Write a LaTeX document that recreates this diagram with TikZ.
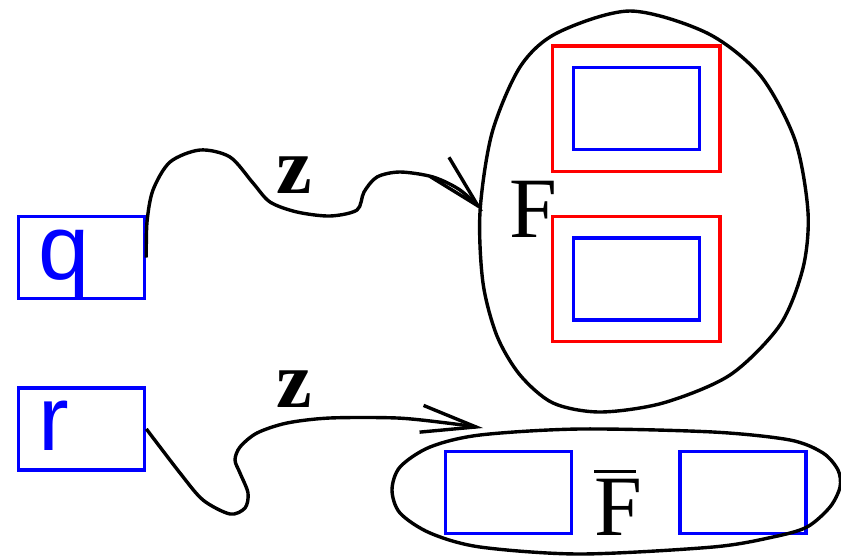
\documentclass[tikz,border=0pt]{standalone}
\usepackage{fontspec}
\setmainfont{Liberation Serif}
\newfontfamily\helv{Liberation Sans}
\usetikzlibrary{positioning,arrows.meta}

\begin{document}
\begin{tikzpicture}[x=1pt,y=-1pt,
  cell/.style={draw=blue,line width=3.4pt,minimum width=126pt,minimum height=82pt,inner sep=0pt},
  var/.style={cell,inner xsep=20pt,text width=86pt,align=left,text height=63pt,text depth=19pt,
    text=blue,font=\helv\fontsize{92}{92}\selectfont},
  set/.style={draw=red,line width=3.4pt,minimum width=167.5pt,minimum height=125.4pt,inner sep=0pt},
  hull/.style={line width=3.4pt},
  wire/.style={line width=3.4pt,-{Straight Barb[length=55pt,width=27pt]}},
  lab/.style={inner sep=0pt,anchor=base west,font=\fontsize{86}{86}\selectfont},
  zlab/.style={lab,font=\bfseries\fontsize{80}{80}\selectfont}]
  \useasboundingbox (0,0) rectangle (841,555);
  % inputs
  \node (q) [var] at (81.6,257.5) {q};
  \node (r) [var,below=86pt of q] {r};
  % the set F
  \node (s1) [set] at (636.2,108.5) {};
  \node (s2) [set,below=41.6pt of s1] {};
  \node (c1) [cell] at (s1) {};
  \node (c2) [cell] at (s2) {};
  \draw[hull] plot[smooth cycle] coordinates {(630,11) (707,33) (760,75) (795,140) (808,212)
    (803,268) (780,325) (730,375) (663,403) (600,412) (553,403) (520,375) (497,336)
    (483,283) (480,212) (492,133) (520,67) (557,33)};
  \node (F) [lab] at (509,237) {F};
  % the complement
  \node (c3) [cell] at (508.5,492.5) {};
  \node (c4) [cell,right=105pt of c3] {};
  \draw[hull] plot[smooth cycle] coordinates {(392,490) (400,513) (430,533) (480,547) (580,554)
    (713,547) (773,537) (807,527) (830,507) (840,487) (838,470) (823,453) (790,440)
    (713,432) (580,429) (480,435) (430,447) (400,467)};
  \node (Fb) [lab] at (594,535) {\makebox[0pt][l]{\raisebox{62.5pt}{\rule{42pt}{3pt}}}F};
  % maps
  \coordinate (Ftip) at (483,211);
  \coordinate (Fbtip) at (483,428);
  \draw[wire] plot[smooth] coordinates {(q.east) (147,222) (153,190) (170,162) (200,150)
    (230,157) (253,183) (270,202) (297,212) (330,216) (357,210) (364,192) (377,177)
    (400,172) (433,177) (460,190) (Ftip)};
  \draw[wire] plot[smooth] coordinates {(r.east) (180,473) (203,500) (230,514) (245,508)
    (248,493) (240,473) (235,460) (240,447) (257,433) (287,423) (330,418) (397,418)
    (447,423) (Fbtip)};
  \node (z1) [zlab] at (276,193) {z};
  \node (z2) [zlab] at (276,407) {z};
\end{tikzpicture}
\end{document}
